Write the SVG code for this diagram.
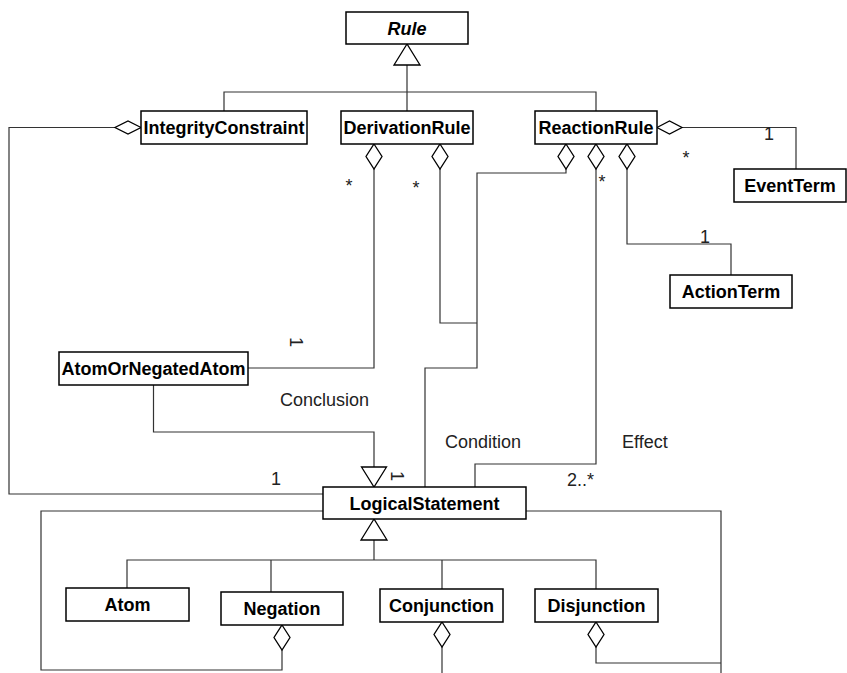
<svg xmlns="http://www.w3.org/2000/svg" width="847" height="673" viewBox="0 0 847 673">
<style>
.box{fill:#fff;stroke:#000;stroke-width:1.5}
.nt{font-family:"Liberation Sans",Arial,sans-serif;font-size:18px;font-weight:bold;text-anchor:middle;fill:#000}
.it{font-style:italic}
.ln{fill:none;stroke:#333;stroke-width:1.2}
.head{fill:#fff;stroke:#000;stroke-width:1.3}
.lb{font-family:"Liberation Sans",Arial,sans-serif;font-size:18px;fill:#222}
.c{text-anchor:middle}
</style>
<rect width="847" height="673" fill="#fff"/>
<g id="connectors">
  <path class="ln" d="M407 65 V111 M224 111 V92 H596 V111"/>
  <polygon class="head" points="407,44 394,65 420,65"/>
  <path class="ln" d="M115 127.5 H9 V494 H323"/>
  <polygon class="head" points="141,127.5 128,121 115,127.5 128,134"/>
  <path class="ln" d="M374 169 V368 H248"/>
  <polygon class="head" points="374,144 382,156.5 374,169 366,156.5"/>
  <path class="ln" d="M440 169 V323 H477"/>
  <polygon class="head" points="440,144 448,156.5 440,169 432,156.5"/>
  <path class="ln" d="M566 169 V173 H477 V368 H425 V487"/>
  <polygon class="head" points="566,144 574,156.5 566,169 558,156.5"/>
  <path class="ln" d="M596 169 V464 H475 V487"/>
  <polygon class="head" points="596,144 604,156.5 596,169 588,156.5"/>
  <path class="ln" d="M627 169 V244 H731 V275"/>
  <polygon class="head" points="627,144 635,156.5 627,169 619,156.5"/>
  <path class="ln" d="M682 127.5 H796 V169"/>
  <polygon class="head" points="657,127.5 669.5,121 682,127.5 669.5,134"/>
  <path class="ln" d="M153.5 385 V432 H374 V467"/>
  <polygon class="head" points="361.5,467 386.5,467 374,487"/>
  <path class="ln" d="M374 540 V560 M127 588 V560 H596 V589 M271 560 V592 M442 560 V589"/>
  <polygon class="head" points="374,519 361,540 387,540"/>
  <path class="ln" d="M323 511 H41 V670 H282 V650"/>
  <polygon class="head" points="282,625 290,637.5 282,650 274,637.5"/>
  <path class="ln" d="M442 647 V673"/>
  <polygon class="head" points="442,622 450,634.5 442,647 434,634.5"/>
  <path class="ln" d="M596 647 V663 H721 M526 511 H721 V673"/>
  <polygon class="head" points="596,622 604,634.5 596,647 588,634.5"/>
  <text class="lb c" x="349" y="192">*</text>
  <text class="lb c" x="416" y="194">*</text>
  <text class="lb c" x="602" y="188">*</text>
  <text class="lb c" x="686" y="164">*</text>
  <text class="lb c" x="769" y="139.5">1</text>
  <text class="lb c" x="705" y="242.5">1</text>
  <text class="lb c" x="296" y="348.5" transform="rotate(90 296 342)">1</text>
  <text class="lb c" x="397" y="482.5" transform="rotate(90 397 476)">1</text>
  <text class="lb" x="280" y="405.5">Conclusion</text>
  <text class="lb" x="445" y="448">Condition</text>
  <text class="lb" x="622" y="448">Effect</text>
  <text class="lb" x="567" y="485.5">2..*</text>
  <text class="lb c" x="276" y="485">1</text>
</g>
<g id="Rule"><rect class="box" x="346" y="12" width="122" height="32"/><text class="nt it" x="407" y="34.5">Rule</text></g>
<g id="IntegrityConstraint"><rect class="box" x="141" y="111" width="166" height="33"/><text class="nt" x="224" y="134">IntegrityConstraint</text></g>
<g id="DerivationRule"><rect class="box" x="341" y="111" width="132" height="33"/><text class="nt" x="407" y="134">DerivationRule</text></g>
<g id="ReactionRule"><rect class="box" x="535" y="111" width="122" height="33"/><text class="nt" x="596" y="134">ReactionRule</text></g>
<g id="EventTerm"><rect class="box" x="734" y="169" width="112" height="33"/><text class="nt" x="790" y="192">EventTerm</text></g>
<g id="ActionTerm"><rect class="box" x="670" y="275" width="122" height="33"/><text class="nt" x="731" y="298">ActionTerm</text></g>
<g id="AtomOrNegatedAtom"><rect class="box" x="59" y="352" width="189" height="33"/><text class="nt" x="153.5" y="375">AtomOrNegatedAtom</text></g>
<g id="LogicalStatement"><rect class="box" x="323" y="487" width="203" height="32"/><text class="nt" x="424.5" y="509.5">LogicalStatement</text></g>
<g id="Atom"><rect class="box" x="66" y="588" width="123" height="33"/><text class="nt" x="127.5" y="611">Atom</text></g>
<g id="Negation"><rect class="box" x="221" y="592" width="122" height="33"/><text class="nt" x="282" y="615">Negation</text></g>
<g id="Conjunction"><rect class="box" x="380" y="589" width="123" height="33"/><text class="nt" x="441.5" y="612">Conjunction</text></g>
<g id="Disjunction"><rect class="box" x="535" y="589" width="123" height="33"/><text class="nt" x="596.5" y="612">Disjunction</text></g>
</svg>
